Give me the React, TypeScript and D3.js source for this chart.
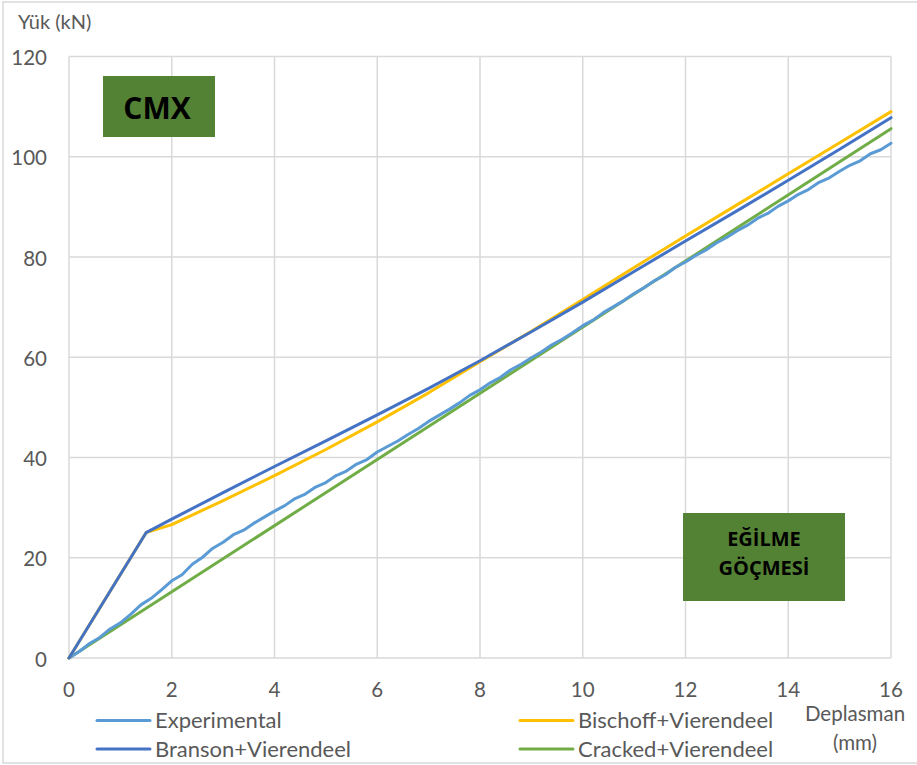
import React from "react";
import * as d3 from "d3";

const xTicks = [0, 2, 4, 6, 8, 10, 12, 14, 16];
const yTicks = [0, 20, 40, 60, 80, 100, 120];

const expX = [0,0.2,0.4,0.6,0.8,1.0,1.2,1.4,1.6,1.8,2.0,2.2,2.4,2.6,2.8,3.0,3.2,3.4,3.6,3.8,4.0,4.2,4.4,4.6,4.8,5.0,5.2,5.4,5.6,5.8,6.0,6.2,6.4,6.6,6.8,7.0,7.2,7.4,7.6,7.8,8.0,8.2,8.4,8.6,8.8,9.0,9.2,9.4,9.6,9.8,10.0,10.2,10.4,10.6,10.8,11.0,11.2,11.4,11.6,11.8,12.0,12.2,12.4,12.6,12.8,13.0,13.2,13.4,13.6,13.8,14.0,14.2,14.4,14.6,14.8,15.0,15.2,15.4,15.6,15.8,16.0];
const expY = [0,1.3,2.9,4.1,5.8,7.0,8.7,10.6,11.9,13.6,15.4,16.6,18.7,20.1,21.9,23.1,24.6,25.5,26.9,28.1,29.3,30.4,31.8,32.7,34.1,35.0,36.4,37.3,38.7,39.6,41.1,42.2,43.3,44.6,45.8,47.2,48.4,49.6,50.9,52.4,53.5,54.9,56.0,57.5,58.6,59.9,61.1,62.5,63.6,64.9,66.3,67.4,68.9,70.1,71.3,72.7,73.9,75.3,76.4,77.9,79.0,80.3,81.4,82.8,83.9,85.2,86.3,87.7,88.7,90.1,91.2,92.5,93.5,94.9,95.8,97.1,98.3,99.2,100.6,101.4,102.7];

const modelX = [0, 1.5, 2, 3, 4, 5, 6, 7, 8, 9, 10, 11, 12, 13, 14, 15, 16];
const bransonY = [0, 25, 27.7, 33.0, 38.2, 43.3, 48.5, 53.8, 59.3, 65.1, 71.0, 77.1, 83.2, 89.2, 95.3, 101.5, 107.8];
const bischoffY = [0, 25, 26.6, 31.4, 36.4, 41.6, 47.1, 52.9, 59.1, 65.2, 71.5, 77.9, 84.2, 90.4, 96.6, 102.8, 109.0];
const crackedX = [0, 16];
const crackedY = [0, 105.6];

const seriesNames = ["Experimental", "Bischoff+Vierendeel", "Branson+Vierendeel", "Cracked+Vierendeel"];
const colors = { exp: "#5B9BD5", bis: "#FFC000", bra: "#4472C4", cra: "#70AD47" };

const W = 917, H = 765;
const left = 69, right = 891, top = 56.5, bottom = 658;
const FONT = "Lato, 'Noto Sans', sans-serif";
const BOLD = "'Open Sans', sans-serif";
const GRAY = "#595959";

export default function App() {
  const x = d3.scaleLinear().domain([0, 16]).range([left, right]);
  const y = d3.scaleLinear().domain([0, 120]).range([bottom, top]);
  const line = d3.line<[number, number]>().x(d => x(d[0])).y(d => y(d[1]));
  const zip = (xs: number[], ys: number[]) => xs.map((v, i) => [v, ys[i]] as [number, number]);

  const series = [
    { key: "cra", d: zip(crackedX, crackedY), c: colors.cra },
    { key: "exp", d: zip(expX, expY), c: colors.exp },
    { key: "bis", d: zip(modelX, bischoffY), c: colors.bis },
    { key: "bra", d: zip(modelX, bransonY), c: colors.bra },
  ];

  const legend = [
    { name: seriesNames[0], c: colors.exp, lx: 97, ly: 720.5 },
    { name: seriesNames[1], c: colors.bis, lx: 520, ly: 720.5 },
    { name: seriesNames[2], c: colors.bra, lx: 97, ly: 749 },
    { name: seriesNames[3], c: colors.cra, lx: 520, ly: 749 },
  ];

  return (
    <svg width={W} height={H} style={{ position: "absolute", left: 0, top: 0, background: "#fff" }} fontFamily={FONT}>
      <rect x={3} y={2} width={W + 10} height={H - 4} fill="#fff" stroke="#d9d9d9" strokeWidth={1.5} />
      {xTicks.map(t => (
        <line key={"gx" + t} x1={x(t)} x2={x(t)} y1={top} y2={bottom} stroke="#d9d9d9" strokeWidth={1.5} />
      ))}
      {yTicks.map(t => (
        <line key={"gy" + t} x1={left} x2={right} y1={y(t)} y2={y(t)} stroke="#d9d9d9" strokeWidth={1.5} />
      ))}
      {yTicks.map(t => (
        <text key={"ty" + t} x={47} y={y(t) + 1.5} dy="0.35em" textAnchor="end" fontSize={20.5} fill={GRAY}>{t}</text>
      ))}
      {xTicks.map(t => (
        <text key={"tx" + t} x={x(t)} y={689.5} dy="0.35em" textAnchor="middle" fontSize={20.5} fill={GRAY}>{t}</text>
      ))}
      <text x={18} y={22} dy="0.35em" fontSize={20} fill={GRAY}>Yük (kN)</text>
      <text x={855} y={714} dy="0.35em" textAnchor="middle" fontSize={20.5} fill={GRAY}>Deplasman</text>
      <text x={855} y={743} dy="0.35em" textAnchor="middle" fontSize={20.5} fill={GRAY}>(mm)</text>

      {series.map(s => (
        <path key={s.key} d={line(s.d) || ""} fill="none" stroke={s.c} strokeWidth={3} strokeLinejoin="round" strokeLinecap="round" />
      ))}

      <rect x={103} y={76} width={112} height={61} fill="#548235" />
      <text x={157} y={108} dy="0.35em" textAnchor="middle" fontSize={30} fontWeight="bold" fill="#000" fontFamily={BOLD}>CMX</text>

      <rect x={683} y={513} width={162} height={88} fill="#548235" />
      <text x={764} y={539} dy="0.35em" textAnchor="middle" fontSize={20} fontWeight="bold" fill="#000" fontFamily={BOLD}>EĞİLME</text>
      <text x={764} y={568} dy="0.35em" textAnchor="middle" fontSize={20} fontWeight="bold" fill="#000" fontFamily={BOLD}>GÖÇMESİ</text>

      {legend.map(l => (
        <g key={l.name}>
          <line x1={l.lx} x2={l.lx + 53} y1={l.ly} y2={l.ly} stroke={l.c} strokeWidth={3} strokeLinecap="round" />
          <text x={l.lx + 58} y={l.ly} dy="0.35em" fontSize={22} fill={GRAY}>{l.name}</text>
        </g>
      ))}
    </svg>
  );
}
